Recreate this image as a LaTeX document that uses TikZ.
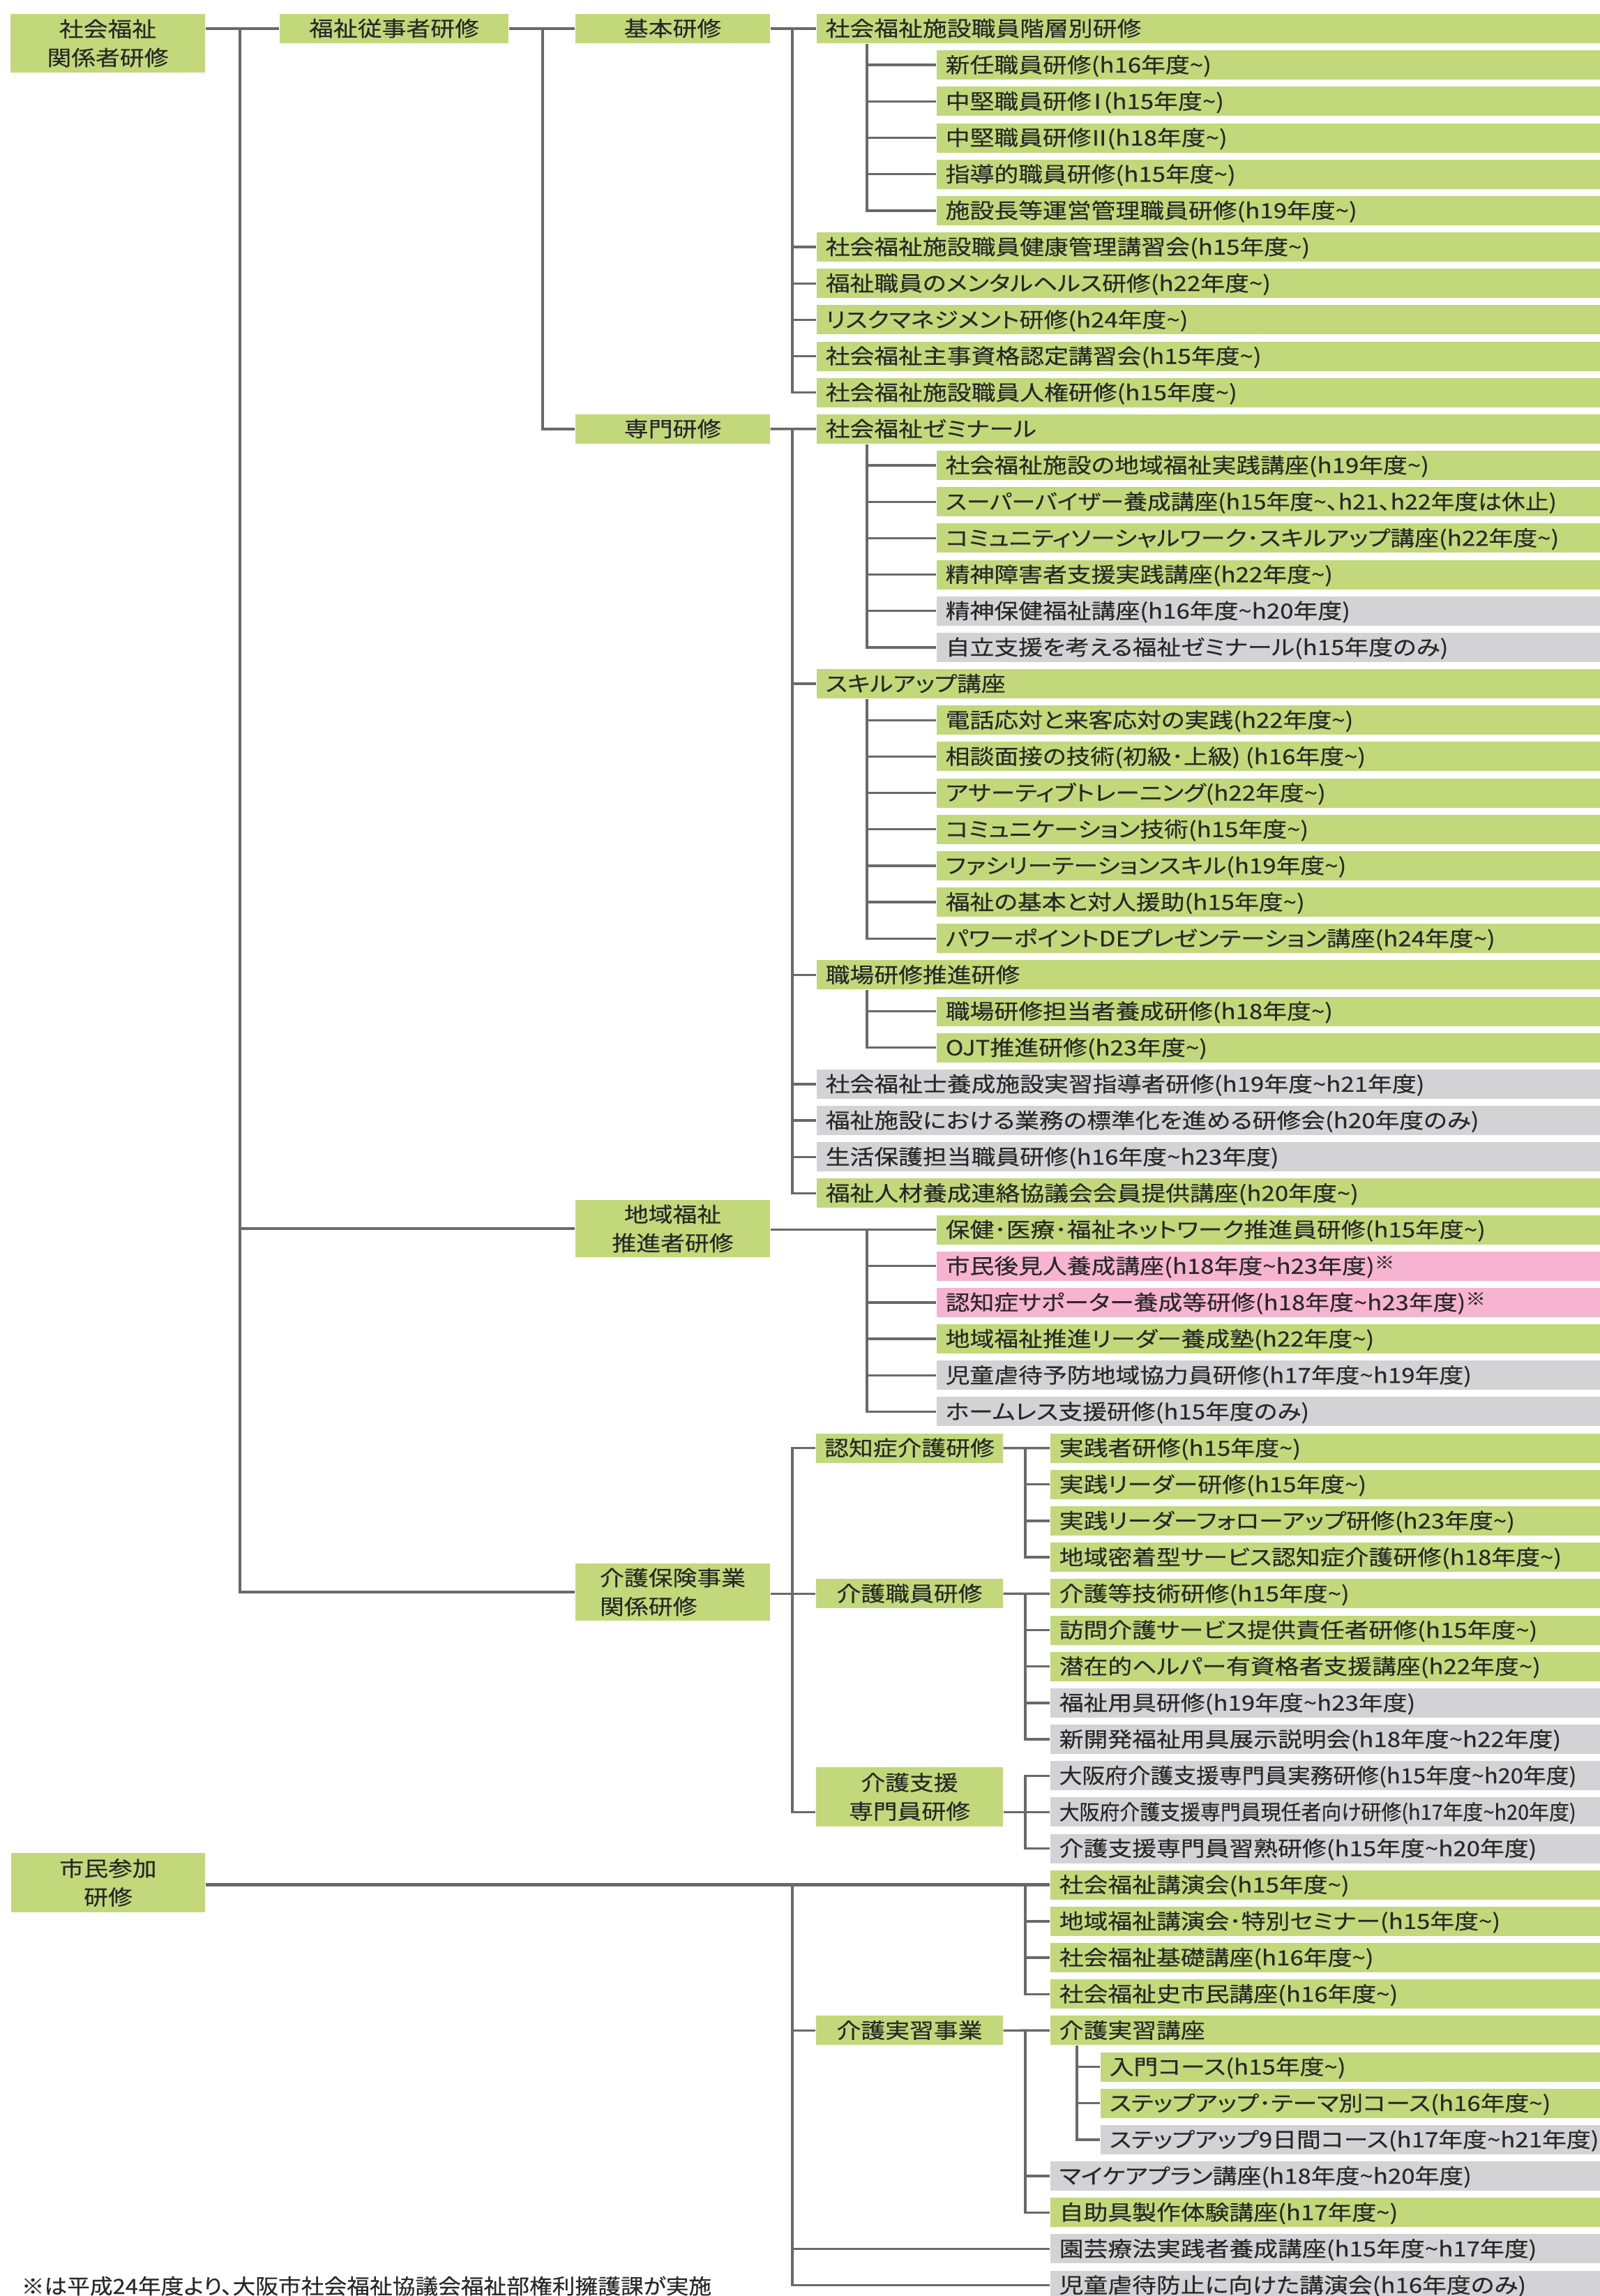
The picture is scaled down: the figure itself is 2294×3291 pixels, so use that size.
\documentclass[tikz,border=0pt]{standalone}
\usepackage{fontspec}
\usepackage{graphicx}
\newfontfamily\jpf[FakeStretch=1.16,FakeBold=0.25,RawFeature=+palt]{Noto Sans CJK JP}
\definecolor{cg}{RGB}{194,216,122}
\definecolor{cy}{RGB}{211,211,213}
\definecolor{cp}{RGB}{246,180,208}
\definecolor{ln}{RGB}{105,105,105}
\definecolor{tx}{RGB}{40,40,40}
\newcommand\tildx{\textasciitilde}
\newcommand\kome{\raisebox{0.45ex}{\fontsize{7pt}{7pt}\selectfont ※}}
\newcommand\romI{\kern-0.28em Ⅰ\kern-0.28em}
\newcommand\romII{\kern-0.2em Ⅱ\kern-0.2em}
\newcommand\jpsize{\jpf\fontsize{8.54pt}{11.7pt}\selectfont}
\tikzset{
  itembox/.style={anchor=west, inner xsep=1.3mm, inner ysep=0pt, minimum height=4.2mm,
    text height=2.55mm, text depth=0.35mm, font=\jpsize, text=tx},
  headbox/.style={fill=cg, inner sep=0pt, font=\jpsize, text=tx, align=center},
  oneline/.style={text height=2.55mm, text depth=0.35mm},
  conn/.style={draw=ln, line width=0.95pt},
  thickconn/.style={draw=ln, line width=1.3pt},
  foot/.style={anchor=base west, inner sep=0pt, font=\jpsize, text=tx}
}
% #1 name, #2 left x, #3 row, #4 fill, #5 text
\newcommand\itm[5]{%
  \pgfmathsetmacro\itmy{41+(#3-1)*52.17}%
  \pgfmathsetmacro\itmw{(2294-#2)*0.1}%
  \pgfmathsetmacro\itmtw{(2294-#2)*0.1-2.6}%
  \node[itembox,fill=#4,minimum width=\itmw mm] (#1) at (#2,\itmy) {\makebox[\itmtw mm][l]{#5}};%
}
\begin{document}
\begin{tikzpicture}[x=0.1mm,y=-0.1mm]
\useasboundingbox (0,0) rectangle (2294,3291);
\fill[white] (0,0) rectangle (2294,3291);

% column coordinates for connector trunks
\coordinate (c1) at (344,0);
\coordinate (c2) at (778,0);
\coordinate (c3) at (1136,0);
\coordinate (c4) at (1243,0);
\coordinate (c5) at (1470,0);
\coordinate (c6) at (1544,0);

% head boxes
\node[headbox, minimum width=27.9mm, minimum height=8.4mm] (n0) at (154.5,62) {社会福祉\\関係者研修};
\node[headbox, oneline, minimum width=32.8mm, minimum height=4.2mm] (n1) at (565,41) {福祉従事者研修};
\node[headbox, oneline, minimum width=27.9mm, minimum height=4.2mm] (n2) at (964.5,41) {基本研修};
\node[headbox, oneline, minimum width=27.9mm, minimum height=4.2mm] (n3) at (964.5,614.9) {専門研修};
\node[headbox, minimum width=27.9mm, minimum height=8.2mm] (n4) at (964.5,1761) {地域福祉\\推進者研修};
\node[headbox, minimum width=27.9mm, minimum height=8.2mm, align=left] (n5) at (964.5,2282) {介護保険事業\\関係研修};
\node[headbox, minimum width=27.8mm, minimum height=8.5mm] (n6) at (155,2698.5) {市民参加\\研修};
\node[headbox, oneline, minimum width=26.8mm, minimum height=4.2mm] (m1) at (1304,2075.6) {認知症介護研修};
\node[headbox, oneline, minimum width=26.8mm, minimum height=4.2mm] (m2) at (1304,2284.3) {介護職員研修};
\node[headbox, minimum width=26.8mm, minimum height=8.5mm] (m3) at (1304,2575.5) {介護支援\\専門員研修};
\node[headbox, oneline, minimum width=26.8mm, minimum height=4.2mm] (m4) at (1304,2910.4) {介護実習事業};

% items
\itm{r1}{1170}{1}{cg}{社会福祉施設職員階層別研修}
\itm{r2}{1342}{2}{cg}{新任職員研修(h16年度\tildx)}
\itm{r3}{1342}{3}{cg}{中堅職員研修\romI(h15年度\tildx)}
\itm{r4}{1342}{4}{cg}{中堅職員研修\romII(h18年度\tildx)}
\itm{r5}{1342}{5}{cg}{指導的職員研修(h15年度\tildx)}
\itm{r6}{1342}{6}{cg}{施設長等運営管理職員研修(h19年度\tildx)}
\itm{r7}{1170}{7}{cg}{社会福祉施設職員健康管理講習会(h15年度\tildx)}
\itm{r8}{1170}{8}{cg}{福祉職員のメンタルヘルス研修(h22年度\tildx)}
\itm{r9}{1170}{9}{cg}{リスクマネジメント研修(h24年度\tildx)}
\itm{r10}{1170}{10}{cg}{社会福祉主事資格認定講習会(h15年度\tildx)}
\itm{r11}{1170}{11}{cg}{社会福祉施設職員人権研修(h15年度\tildx)}
\itm{r12}{1170}{12}{cg}{社会福祉ゼミナール}
\itm{r13}{1342}{13}{cg}{社会福祉施設の地域福祉実践講座(h19年度\tildx)}
\itm{r14}{1342}{14}{cg}{\scalebox{0.97}[1]{スーパーバイザー養成講座(h15年度\tildx、h21、h22年度は休止)}}
\itm{r15}{1342}{15}{cg}{コミュニティソーシャルワーク･スキルアップ講座(h22年度\tildx)}
\itm{r16}{1342}{16}{cg}{精神障害者支援実践講座(h22年度\tildx)}
\itm{r17}{1342}{17}{cy}{精神保健福祉講座(h16年度\tildx h20年度)}
\itm{r18}{1342}{18}{cy}{自立支援を考える福祉ゼミナール(h15年度のみ)}
\itm{r19}{1170}{19}{cg}{スキルアップ講座}
\itm{r20}{1342}{20}{cg}{電話応対と来客応対の実践(h22年度\tildx)}
\itm{r21}{1342}{21}{cg}{相談面接の技術(初級･上級)\kern0.25em(h16年度\tildx)}
\itm{r22}{1342}{22}{cg}{アサーティブトレーニング(h22年度\tildx)}
\itm{r23}{1342}{23}{cg}{コミュニケーション技術(h15年度\tildx)}
\itm{r24}{1342}{24}{cg}{ファシリーテーションスキル(h19年度\tildx)}
\itm{r25}{1342}{25}{cg}{福祉の基本と対人援助(h15年度\tildx)}
\itm{r26}{1342}{26}{cg}{パワーポイントDEプレゼンテーション講座(h24年度\tildx)}
\itm{r27}{1170}{27}{cg}{職場研修推進研修}
\itm{r28}{1342}{28}{cg}{職場研修担当者養成研修(h18年度\tildx)}
\itm{r29}{1342}{29}{cg}{OJT推進研修(h23年度\tildx)}
\itm{r30}{1170}{30}{cy}{社会福祉士養成施設実習指導者研修(h19年度\tildx h21年度)}
\itm{r31}{1170}{31}{cy}{福祉施設における業務の標準化を進める研修会(h20年度のみ)}
\itm{r32}{1170}{32}{cy}{生活保護担当職員研修(h16年度\tildx h23年度)}
\itm{r33}{1170}{33}{cg}{福祉人材養成連絡協議会会員提供講座(h20年度\tildx)}
\itm{r34}{1342}{34}{cg}{保健･医療･福祉ネットワーク推進員研修(h15年度\tildx)}
\itm{r35}{1342}{35}{cp}{市民後見人養成講座(h18年度\tildx h23年度)\kome}
\itm{r36}{1342}{36}{cp}{認知症サポーター養成等研修(h18年度\tildx h23年度)\kome}
\itm{r37}{1342}{37}{cg}{地域福祉推進リーダー養成塾(h22年度\tildx)}
\itm{r38}{1342}{38}{cy}{児童虐待予防地域協力員研修(h17年度\tildx h19年度)}
\itm{r39}{1342}{39}{cy}{ホームレス支援研修(h15年度のみ)}
\itm{r40}{1505}{40}{cg}{実践者研修(h15年度\tildx)}
\itm{r41}{1505}{41}{cg}{実践リーダー研修(h15年度\tildx)}
\itm{r42}{1505}{42}{cg}{実践リーダーフォローアップ研修(h23年度\tildx)}
\itm{r43}{1505}{43}{cg}{地域密着型サービス認知症介護研修(h18年度\tildx)}
\itm{r44}{1505}{44}{cg}{介護等技術研修(h15年度\tildx)}
\itm{r45}{1505}{45}{cg}{訪問介護サービス提供責任者研修(h15年度\tildx)}
\itm{r46}{1505}{46}{cg}{潜在的ヘルパー有資格者支援講座(h22年度\tildx)}
\itm{r47}{1505}{47}{cy}{福祉用具研修(h19年度\tildx h23年度)}
\itm{r48}{1505}{48}{cy}{新開発福祉用具展示説明会(h18年度\tildx h22年度)}
\itm{r49}{1505}{49}{cy}{\scalebox{0.94}[1]{大阪府介護支援専門員実務研修(h15年度\tildx h20年度)}}
\itm{r50}{1505}{50}{cy}{\scalebox{0.83}[1]{大阪府介護支援専門員現任者向け研修(h17年度\tildx h20年度)}}
\itm{r51}{1505}{51}{cy}{介護支援専門員習熟研修(h15年度\tildx h20年度)}
\itm{r52}{1505}{52}{cg}{社会福祉講演会(h15年度\tildx)}
\itm{r53}{1505}{53}{cg}{地域福祉講演会･特別セミナー(h15年度\tildx)}
\itm{r54}{1505}{54}{cg}{社会福祉基礎講座(h16年度\tildx)}
\itm{r55}{1505}{55}{cg}{社会福祉史市民講座(h16年度\tildx)}
\itm{r56}{1505}{56}{cg}{介護実習講座}
\itm{r57}{1577}{57}{cg}{入門コース(h15年度\tildx)}
\itm{r58}{1577}{58}{cg}{ステップアップ･テーマ別コース(h16年度\tildx)}
\itm{r59}{1577}{59}{cy}{ステップアップ9日間コース(h17年度\tildx h21年度)}
\itm{r60}{1505}{60}{cy}{マイケアプラン講座(h18年度\tildx h20年度)}
\itm{r61}{1505}{61}{cg}{自助具製作体験講座(h17年度\tildx)}
\itm{r62}{1505}{62}{cy}{園芸療法実践者養成講座(h15年度\tildx h17年度)}
\itm{r63}{1505}{63}{cy}{児童虐待防止に向けた講演会(h16年度のみ)}

% footnote
\node[foot] (fn) at (30,3288) {\scalebox{0.94}[1]{※は平成24年度より、大阪市社会福祉協議会福祉部権利擁護課が実施}};

% connectors
\draw[conn] (n0.east |- n1.west) -- (n1.west);
\draw[conn] (c1 |- n1.west) -- (c1 |- n5.west) -- (n5.west);
\draw[conn] (c1 |- n4.west) -- (n4.west);

\draw[conn] (n1.east) -- (n2.west);
\draw[conn] (c2 |- n1.east) -- (c2 |- n3.west) -- (n3.west);

% kihon kenshu
\draw[conn] (n2.east) -- (r1.west);
\draw[conn] (c3 |- r1.west) -- (c3 |- r11.west) -- (r11.west);
\foreach \k in {7,...,10} \draw[conn] (c3 |- r\k.west) -- (r\k.west);
\draw[conn] (c4 |- r1.south) -- (c4 |- r6.west) -- (r6.west);
\foreach \k in {2,...,5} \draw[conn] (c4 |- r\k.west) -- (r\k.west);

% senmon kenshu
\draw[conn] (n3.east) -- (r12.west);
\draw[conn] (c3 |- r12.west) -- (c3 |- r33.west) -- (r33.west);
\foreach \k in {19,27,30,31,32} \draw[conn] (c3 |- r\k.west) -- (r\k.west);
\draw[conn] (c4 |- r12.south) -- (c4 |- r18.west) -- (r18.west);
\foreach \k in {13,...,17} \draw[conn] (c4 |- r\k.west) -- (r\k.west);
\draw[conn] (c4 |- r19.south) -- (c4 |- r26.west) -- (r26.west);
\foreach \k in {20,...,25} \draw[conn] (c4 |- r\k.west) -- (r\k.west);
\draw[conn] (c4 |- r27.south) -- (c4 |- r29.west) -- (r29.west);
\draw[conn] (c4 |- r28.west) -- (r28.west);

% chiiki fukushi
\draw[conn] (n4.east |- r34.west) -- (r34.west);
\draw[conn] (c4 |- r34.west) -- (c4 |- r39.west) -- (r39.west);
\foreach \k in {35,...,38} \draw[conn] (c4 |- r\k.west) -- (r\k.west);

% kaigo hoken
\draw[conn] (n5.east |- m2.west) -- (m2.west);
\draw[conn] (m1.west) -- (c3 |- m1.west) -- (c3 |- r50.west) -- (m3.west |- r50.west);
\draw[conn] (m1.east) -- (r40.west);
\draw[conn] (c5 |- r40.west) -- (c5 |- r43.west) -- (r43.west);
\foreach \k in {41,42} \draw[conn] (c5 |- r\k.west) -- (r\k.west);
\draw[conn] (m2.east) -- (r44.west);
\draw[conn] (c5 |- r44.west) -- (c5 |- r48.west) -- (r48.west);
\foreach \k in {45,46,47} \draw[conn] (c5 |- r\k.west) -- (r\k.west);
\draw[conn] (m3.east |- r50.west) -- (r50.west);
\draw[conn] (r49.west) -- (c5 |- r49.west) -- (c5 |- r51.west) -- (r51.west);

% shimin sanka
\draw[thickconn] (n6.east |- r52.west) -- (r52.west);
\draw[conn] (c5 |- r52.west) -- (c5 |- r55.west) -- (r55.west);
\foreach \k in {53,54} \draw[conn] (c5 |- r\k.west) -- (r\k.west);
\draw[conn] (c3 |- r52.west) -- (c3 |- r63.west) -- (r63.west);
\draw[conn] (c3 |- m4.west) -- (m4.west);
\draw[conn] (c3 |- r62.west) -- (r62.west);
\draw[conn] (m4.east) -- (r56.west);
\draw[conn] (c5 |- r56.west) -- (c5 |- r61.west) -- (r61.west);
\draw[conn] (c5 |- r60.west) -- (r60.west);
\draw[conn] (c6 |- r56.south) -- (c6 |- r59.west) -- (r59.west);
\foreach \k in {57,58} \draw[conn] (c6 |- r\k.west) -- (r\k.west);
\end{tikzpicture}
\end{document}
